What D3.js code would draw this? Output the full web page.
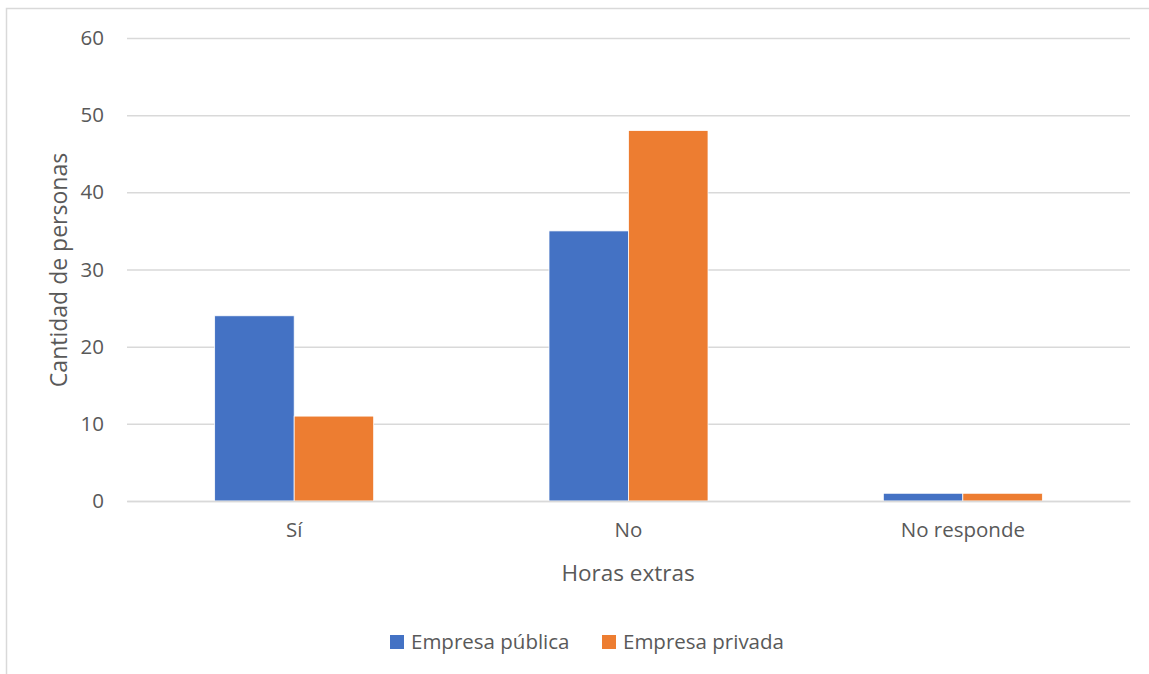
<!DOCTYPE html>
<html><head><meta charset="utf-8">
<script src="https://cdn.jsdelivr.net/npm/d3@7"></script>
<style>body{margin:0;background:#fff;}svg{display:block;font-family:"Open Sans",sans-serif;}</style>
</head><body><svg id="c" width="1149" height="674"></svg>
<script>
const categories = ["Sí", "No", "No responde"];
const seriesNames = ["Empresa pública", "Empresa privada"];
const publica = [24, 35, 1];
const privada = [11, 48, 1];
const yTicks = [0, 10, 20, 30, 40, 50, 60];
const colors = ["#4472C4", "#ED7D31"];

(function () {
const FONT = "'Open Sans',sans-serif";
const svg = d3.select("#c");
svg.append("rect").attr("x", 6.5).attr("y", 8.5).attr("width", 1300).attr("height", 1000)
  .attr("fill", "#fff").attr("stroke", "#d9d9d9").attr("stroke-width", 1.5);

const pLeft = 127, pRight = 1130, pTop = 38, pBottom = 501;
const x = d3.scaleBand().domain(categories).range([pLeft, pRight]);
const y = d3.scaleLinear().domain([0, 60]).range([pBottom, pTop]);
const inner = d3.scaleBand().domain(seriesNames).range([0, 159]);

const gy = svg.append("g").attr("transform", `translate(${pLeft},0)`)
  .call(d3.axisLeft(y).tickValues(yTicks).tickSize(-(pRight - pLeft)).tickPadding(23));
gy.select(".domain").remove();
gy.selectAll(".tick line").attr("stroke", "#d9d9d9").attr("stroke-width", 1.5);
gy.selectAll(".tick text").attr("fill", "#595959").attr("font-size", 20.5).attr("font-family", FONT);

const data = categories.map((c, i) => ({c, vals: [publica[i], privada[i]]}));
const g = svg.append("g");
data.forEach(d => {
  const x0 = x(d.c) + (x.bandwidth() - 159) / 2;
  d.vals.forEach((v, j) => {
    g.append("rect").attr("x", x0 + inner(seriesNames[j])).attr("y", y(v))
      .attr("width", inner.bandwidth()).attr("height", y(0) - y(v))
      .attr("fill", colors[j]).attr("stroke", "#fff").attr("stroke-width", 0.75);
  });
});

const gx = svg.append("g").attr("transform", `translate(0,${pBottom})`)
  .call(d3.axisBottom(x).tickSize(0).tickPadding(21));
gx.select(".domain").attr("stroke", "#d9d9d9").attr("stroke-width", 1.5);
gx.selectAll(".tick text").attr("fill", "#595959").attr("font-size", 20.5).attr("font-family", FONT);

svg.append("text").attr("x", 628).attr("y", 581).attr("text-anchor", "middle")
  .attr("fill", "#595959").attr("font-size", 22.5).text("Horas extras");
svg.append("text").attr("transform", "translate(67,270) rotate(-90)").attr("text-anchor", "middle")
  .attr("fill", "#595959").attr("font-size", 23).text("Cantidad de personas");

const legX = [390, 602];
seriesNames.forEach((s, i) => {
  svg.append("rect").attr("x", legX[i]).attr("y", 635).attr("width", 14).attr("height", 14).attr("fill", colors[i]);
  svg.append("text").attr("x", legX[i] + 21).attr("y", 649).attr("fill", "#595959").attr("font-size", 20.5).text(s);
});
})();
</script></body></html>
